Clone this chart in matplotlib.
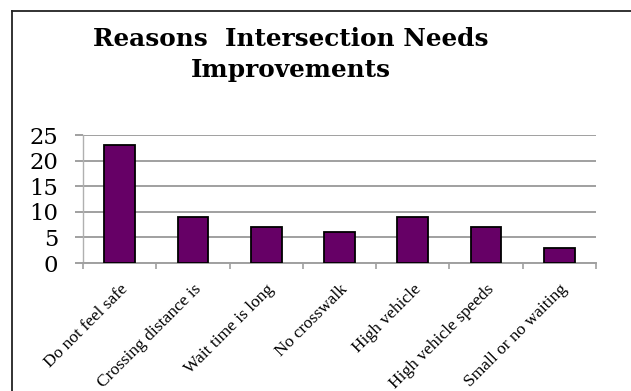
import matplotlib
matplotlib.use("Agg")
import matplotlib.pyplot as plt
from matplotlib.lines import Line2D

categories = ["Do not feel safe", "Crossing distance is", "Wait time is long",
              "No crosswalk", "High vehicle", "High vehicle speeds",
              "Small or no waiting"]
values = [23, 9, 7, 6, 9, 7, 3]
yticks = [0, 5, 10, 15, 20, 25]
title_lines = ["Reasons  Intersection Needs", "Improvements"]

serif = ["Liberation Serif", "DejaVu Serif"]
wide_serif = ["DejaVu Serif", "Liberation Serif"]

fig = plt.figure(figsize=(6.31, 3.91), dpi=100)
ax = fig.add_axes([83/631, 1-263/391, (596-83)/631, (263-135)/391])

x = range(len(categories))
ax.bar(x, values, width=0.42, color="#660066", edgecolor="black", linewidth=1.3, zorder=3)

ax.set_xlim(-0.5, len(categories)-0.5)
ax.set_ylim(0, 25)
ax.set_yticks(yticks)
ax.set_yticklabels([str(v) for v in yticks], family=wide_serif, fontsize=16.4)
ax.yaxis.grid(True, color="#a0a0a0", linewidth=1.4, zorder=0)
ax.set_axisbelow(True)

ax.set_xticks([i for i in x])
ax.set_xticklabels(categories, rotation=45, ha="right", rotation_mode="anchor",
                   family=serif, fontsize=12.5)
ax.set_xticks([i - 0.5 for i in range(len(categories)+1)], minor=True)
ax.tick_params(axis="x", which="major", length=0, pad=13)
ax.tick_params(axis="x", which="minor", length=4, color="#a0a0a0", width=1.2)
ax.tick_params(axis="y", length=6, color="#a0a0a0", width=1.4, pad=12)

for s in ["top", "right"]:
    ax.spines[s].set_visible(False)
ax.spines["left"].set_color("#b0b0b0")
ax.spines["left"].set_linewidth(1.0)
ax.spines["bottom"].set_color("#a0a0a0")
ax.spines["bottom"].set_linewidth(1.4)

fig.text(291/631, 1-46/391, title_lines[0], ha="center", va="baseline",
         family=wide_serif, fontsize=17.8, fontweight="bold")
fig.text(291/631, 1-77/391, title_lines[1], ha="center", va="baseline",
         family=wide_serif, fontsize=17.8, fontweight="bold")

# outer chart border (partially outside the image)
fig.add_artist(Line2D([12/631, 1], [1-11/391, 1-11/391], color="#222222", lw=1.3,
                      transform=fig.transFigure))
fig.add_artist(Line2D([12/631, 12/631], [0, 1-11/391], color="#222222", lw=1.3,
                      transform=fig.transFigure))

fig.savefig("out.png", dpi=100)
